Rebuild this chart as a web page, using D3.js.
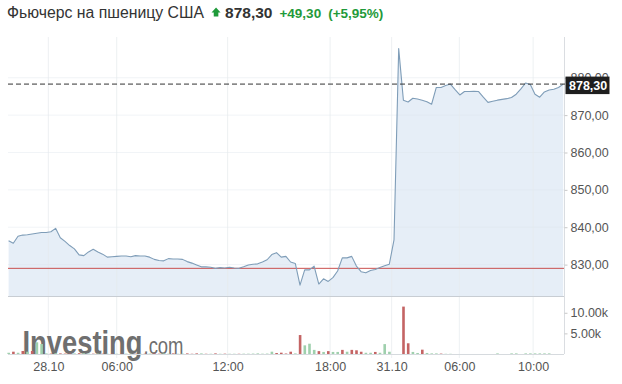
<!DOCTYPE html>
<html>
<head>
<meta charset="utf-8">
<script src="https://cdn.jsdelivr.net/npm/d3@7"></script>
<style>
  body { margin: 0; background: #fff; }
  svg { display: block; font-family: "Liberation Sans", Arial, sans-serif; }
</style>
</head>
<body>
<div id="chart"></div>
<script>
// data
var title = "Фьючерс на пшеницу США";
var lastPrice = 878.30, prevClose = 829.00, change = 49.30, changePct = 5.95;

var prices = [
  836.4, 835.7, 837.6, 837.9, 838.0, 838.2, 838.4, 838.6, 838.6, 838.8,
  839.7, 837.2, 836.2, 835.1, 834.2, 832.6, 832.4, 833.4, 834.1, 833.4,
  832.8, 832.0, 832.1, 832.2, 832.3, 832.3, 832.1, 832.4, 832.3, 832.3,
  832.0, 831.4, 831.1, 831.0, 831.6, 831.5, 831.5, 831.4, 830.8, 830.4,
  829.9, 829.4, 829.4, 829.3, 829.0, 829.2, 829.1, 829.3, 829.1, 829.0,
  829.4, 829.9, 830.1, 830.2, 830.7, 831.3, 832.7, 833.2, 832.0, 832.2,
  830.7, 830.3, 824.5, 828.6, 828.6, 829.6, 824.8, 826.2, 825.5, 826.5,
  828.3, 831.8, 831.8, 832.2, 829.6, 828.1, 827.8, 828.4, 828.7, 829.2,
  829.7, 830.1, 836.6, 887.8, 874.0, 873.5, 874.5, 874.3, 874.0, 873.6,
  872.9, 877.4, 877.4, 877.9, 878.3, 876.8, 875.4, 876.3, 876.3, 876.4,
  876.3, 874.8, 873.4, 873.7, 874.0, 874.2, 874.4, 874.7, 875.6, 877.0,
  878.6, 878.2, 875.6, 874.8, 876.2, 876.7, 876.9, 877.4, 878.3
];

var volumes = [
  300, 560, 300, 730, 560, 730, 2840, 2430, 150, 100,
  200, 150, 100, 120, 150, 200, 200, 100, 80, 100,
  80, 60, 80, 60, 60, 80, 60, 80, 60, 80,
  100, 150, 80, 150, 80, 150, 60, 80, 150, 60,
  150, 150, 60, 60, 150, 60, 80, 60, 60, 60,
  80, 80, 100, 150, 80, 100, 560, 240, 320, 120,
  560, 150, 4600, 2100, 2500, 1000, 700, 500, 700, 500,
  500, 1000, 550, 1000, 900, 550, 300, 300, 500, 300,
  2400, 550, 0, 0, 11500, 2600, 500, 250, 1050, 250,
  150, 150, 100, 50, 50, 0, 0, 0, 0, 0,
  0, 0, 0, 0, 150, 0, 0, 150, 150, 0,
  150, 150, 150, 150, 150, 150, 0, 0, 0
];
// u = up bar, d = down bar
var volDir = ("udududuuud" + "uddduduudu" + "dududuudud" + "udduuduudd" +
              "dudududuud" + "uuuuuuuddd" + "duduuududu" + "ududdduudu" +
              "uuuudduudu" + "uuduuuuuuu" + "uuuuuuuuuu" + "uuuuuuuuu").split("");

var xTickPos = [8.45, 23, 46.6, 68.4, 81.5, 95.9, 111.6];
var xTickLabels = ["28.10", "06:00", "12:00", "18:00", "31.10", "06:00", "10:00"];
var priceTicks = [830, 840, 850, 860, 870, 880];
var volTicks = [5000, 10000];

var width = 622, height = 384;
var plotLeft = 8, plotRight = 564, plotTop = 37, priceBottom = 296, volTop = 300, volBottom = 354;

var fmt = function(v) { return d3.format(".2f")(v).replace(".", ","); };

var svg = d3.select("#chart").append("svg")
    .attr("width", width)
    .attr("height", height);

var x = d3.scaleLinear().domain([0, prices.length - 1]).range([8.6, 563.2]);
var y = d3.scaleLinear().domain([821.6, 890.9]).range([priceBottom, plotTop]);
var yv = d3.scaleLinear().domain([0, 13100]).range([volBottom, volTop]);

// header
var head = svg.append("g");
var t1 = head.append("text").attr("x", 7).attr("y", 17.5)
    .attr("font-size", 15.8).attr("fill", "#333").text(title);
var hx = 7 + t1.node().getComputedTextLength() + 7.5;
head.append("path")
    .attr("d", "M" + hx + ",12.4 L" + (hx + 4.5) + ",7.6 L" + (hx + 9) + ",12.4 L" + (hx + 6.8) + ",12.4 L" + (hx + 6.8) + ",16.4 L" + (hx + 2.2) + ",16.4 L" + (hx + 2.2) + ",12.4 Z")
    .attr("fill", "#1f9a3a");
hx += 13.5;
var t2 = head.append("text").attr("x", hx).attr("y", 17.5)
    .attr("font-size", 15.5).attr("font-weight", "bold").attr("fill", "#333").text(fmt(lastPrice));
hx += t2.node().getComputedTextLength() + 7;
var t3 = head.append("text").attr("x", hx).attr("y", 17.5)
    .attr("font-size", 13.5).attr("font-weight", "bold").attr("fill", "#1f9a3a").text("+" + fmt(change));
hx += t3.node().getComputedTextLength() + 7;
head.append("text").attr("x", hx).attr("y", 17.5)
    .attr("font-size", 13.5).attr("font-weight", "bold").attr("fill", "#1f9a3a").text("(+" + fmt(changePct) + "%)");

// area fill under the price line
svg.append("path")
    .datum(prices)
    .attr("fill", "#e6eef7")
    .attr("d", d3.area().x(function(d, i) { return x(i); }).y0(priceBottom).y1(function(d) { return y(d); }));

// grid
svg.append("g").selectAll("line").data(priceTicks).enter().append("line")
    .attr("x1", plotLeft).attr("x2", plotRight)
    .attr("y1", function(d) { return y(d); }).attr("y2", function(d) { return y(d); })
    .attr("stroke", "#dde3ea").attr("stroke-opacity", 0.4);
svg.append("g").selectAll("line").data(xTickPos).enter().append("line")
    .attr("x1", function(d) { return x(d); }).attr("x2", function(d) { return x(d); })
    .attr("y1", plotTop).attr("y2", volBottom + 4)
    .attr("stroke", "#e6e9ed").attr("stroke-opacity", 0.7);

// Investing.com watermark
var logo = svg.append("g").attr("fill", "#6f6f6f");
logo.append("text").attr("x", 22.5).attr("y", 354).attr("font-size", 33).attr("font-weight", "bold")
    .attr("textLength", 120).attr("lengthAdjust", "spacingAndGlyphs").text("Investing");
logo.append("text").attr("x", 143.5).attr("y", 354).attr("font-size", 24.5)
    .attr("textLength", 40).attr("lengthAdjust", "spacingAndGlyphs").text(".com");

// volume bars
svg.append("g").selectAll("rect").data(volumes).enter().append("rect")
    .attr("x", function(d, i) { return x(i) - 1.2; })
    .attr("width", 2.6)
    .attr("y", function(d) { return yv(d); })
    .attr("height", function(d) { return volBottom - yv(d); })
    .attr("fill", function(d, i) { return volDir[i] === "d" ? "#c46464" : "#9fd0ad"; });

// previous close
svg.append("line")
    .attr("x1", plotLeft).attr("x2", plotRight)
    .attr("y1", y(prevClose)).attr("y2", y(prevClose))
    .attr("stroke", "#c9504f").attr("stroke-width", 1);

svg.append("path")
    .datum(prices)
    .attr("fill", "none")
    .attr("stroke", "#7f9db8")
    .attr("stroke-width", 1.1)
    .attr("stroke-linejoin", "round")
    .attr("d", d3.line().x(function(d, i) { return x(i); }).y(function(d) { return y(d); }));

// pane borders
svg.append("line").attr("x1", plotLeft).attr("x2", plotRight).attr("y1", priceBottom + 0.5).attr("y2", priceBottom + 0.5)
    .attr("stroke", "#c8cdd3");
svg.append("line").attr("x1", plotLeft).attr("x2", plotRight).attr("y1", volBottom + 0.5).attr("y2", volBottom + 0.5)
    .attr("stroke", "#d6dade");
svg.append("line").attr("x1", plotRight + 0.5).attr("x2", plotRight + 0.5).attr("y1", plotTop).attr("y2", volBottom)
    .attr("stroke", "#dadde1");

// last price dashed line
svg.append("line")
    .attr("x1", plotLeft).attr("x2", plotRight + 4)
    .attr("y1", y(lastPrice)).attr("y2", y(lastPrice))
    .attr("stroke", "#333").attr("stroke-dasharray", "5,3");

// right price axis
var yAxis = svg.append("g")
    .attr("transform", "translate(" + (plotRight + 0.5) + ",0)")
    .call(d3.axisRight(y).tickValues(priceTicks).tickSize(3).tickFormat(fmt));
yAxis.select(".domain").remove();
yAxis.selectAll("line").attr("stroke", "#c8c8c8");
yAxis.selectAll("text").attr("font-size", 12.5).attr("fill", "#555").attr("x", 6)
    .attr("font-family", "Liberation Sans, Arial, sans-serif");

// last price label box
svg.append("rect").attr("x", plotRight + 1.5).attr("y", y(lastPrice) - 7.5).attr("width", 44).attr("height", 17.5)
    .attr("fill", "#1e1e1e");
svg.append("text").attr("x", plotRight + 5).attr("y", y(lastPrice) + 5.8)
    .attr("font-size", 12.5).attr("font-weight", "bold").attr("fill", "#fff").text(fmt(lastPrice));

// volume axis
var vAxis = svg.append("g")
    .attr("transform", "translate(" + (plotRight + 0.5) + ",0)")
    .call(d3.axisRight(yv).tickValues(volTicks).tickSize(3).tickFormat(function(d) { return d3.format(".2f")(d / 1000) + "k"; }));
vAxis.select(".domain").remove();
vAxis.selectAll("line").attr("stroke", "#c8c8c8");
vAxis.selectAll("text").attr("font-size", 12.5).attr("fill", "#555").attr("x", 6)
    .attr("font-family", "Liberation Sans, Arial, sans-serif");

// time axis
var xAxis = svg.append("g")
    .attr("transform", "translate(0," + (volBottom + 3) + ")")
    .call(d3.axisBottom(x).tickValues(xTickPos).tickSize(0)
      .tickFormat(function(d, i) { return xTickLabels[i]; }));
xAxis.select(".domain").remove();
xAxis.selectAll("text").attr("font-size", 12.5).attr("fill", "#555").attr("dy", "0.9em")
    .attr("font-family", "Liberation Sans, Arial, sans-serif");
</script>
</body>
</html>
